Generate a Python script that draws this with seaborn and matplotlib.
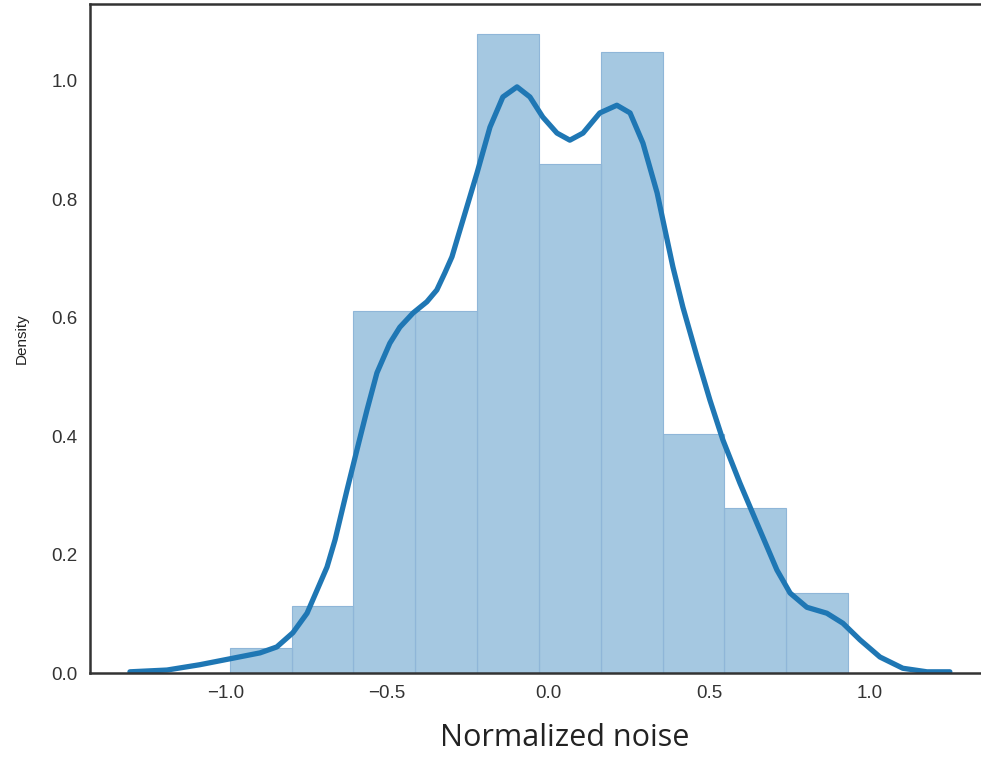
import numpy as np
import pandas as pd
import matplotlib
matplotlib.use("Agg")
import matplotlib.pyplot as plt
import seaborn as sns

# Setup
sns.set_style("white")
plt.rcParams["font.family"] = ["Liberation Sans", "DejaVu Sans"]

# Histogram (density per bin)
bin_edges = [-0.988, -0.796, -0.604, -0.412, -0.220, -0.028,
             0.164, 0.356, 0.548, 0.740, 0.932]
bin_density = [0.042, 0.113, 0.611, 0.611, 1.080, 0.860,
               1.049, 0.404, 0.279, 0.135]

# KDE curve, points
kde_x = [-1.298, -1.183, -1.081, -0.978, -0.894, -0.842, -0.792, -0.748,
         -0.717, -0.686, -0.661, -0.624, -0.593, -0.562, -0.531, -0.491,
         -0.460, -0.419, -0.376, -0.345, -0.320, -0.298, -0.280, -0.264,
         -0.220, -0.180,
         -0.140, -0.096, -0.056, -0.016, 0.028, 0.068, 0.109, 0.161,
         0.214, 0.255, 0.295, 0.339, 0.388, 0.419, 0.463, 0.503,
         0.543, 0.596, 0.649, 0.711, 0.752, 0.804, 0.866, 0.916,
         0.969, 1.031, 1.102, 1.177, 1.248]
kde_y = [0.002, 0.005, 0.014, 0.025, 0.034, 0.044, 0.068, 0.101,
         0.140, 0.179, 0.225, 0.309, 0.377, 0.444, 0.507, 0.557,
         0.584, 0.608, 0.627, 0.647, 0.676, 0.703, 0.736, 0.765,
         0.845, 0.922,
         0.973, 0.990, 0.973, 0.939, 0.912, 0.900, 0.912, 0.946,
         0.959, 0.946, 0.895, 0.811, 0.686, 0.618, 0.534, 0.461,
         0.394, 0.321, 0.253, 0.174, 0.135, 0.111, 0.101, 0.084,
         0.056, 0.027, 0.008, 0.002, 0.002]

blue = "#1f77b4"
bin_centers = [(a + b) / 2 for a, b in zip(bin_edges[:-1], bin_edges[1:])]
hist_df = pd.DataFrame({"x": bin_centers, "w": bin_density})
kde_df = pd.DataFrame({"x": kde_x, "y": kde_y})

fig = plt.figure(figsize=(9.81, 7.63), dpi=100)
ax = fig.add_axes([90 / 981, 90 / 763, 903 / 981, 669 / 763])

sns.histplot(data=hist_df, x="x", weights="w", bins=bin_edges, stat="count",
             color=blue, alpha=0.4, edgecolor="#8fb6d8", linewidth=0.8, ax=ax)
sns.lineplot(data=kde_df, x="x", y="y", color=blue, linewidth=3.8, ax=ax,
             solid_capstyle="round", solid_joinstyle="round")

ax.set_xlim(-1.422, 1.382)
ax.set_ylim(0, 1.13)
ax.set_xticks([-1.0, -0.5, 0.0, 0.5, 1.0])
ax.set_yticks([0.0, 0.2, 0.4, 0.6, 0.8, 1.0])
ax.tick_params(axis="both", labelsize=13.5, colors="#333333", pad=9, length=0)

for side in ["left", "bottom", "top"]:
    ax.spines[side].set_color("#333333")
    ax.spines[side].set_linewidth(1.8)
ax.spines["right"].set_visible(False)

ax.set_ylabel("Density", fontsize=11, color="#222222")
ax.set_xlabel("Normalized noise", fontsize=22, color="#222222",
              family=["Open Sans", "DejaVu Sans"])
ax.xaxis.set_label_coords(0.526, -0.074)
ax.yaxis.set_label_coords(-0.068, 0.5)

plt.savefig("out.png", dpi=100)
